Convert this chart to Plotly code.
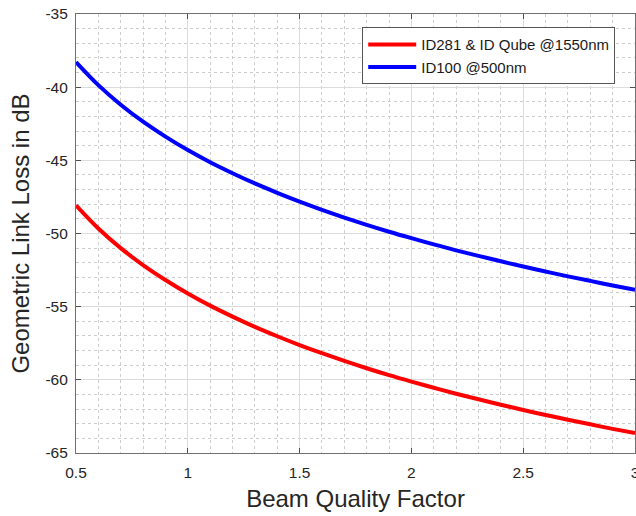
import plotly.graph_objects as go

beam_quality = [0.5, 0.6, 0.7, 0.8, 0.9, 1.0, 1.1, 1.2, 1.3, 1.4, 1.5, 1.6, 1.7,
                1.8, 1.9, 2.0, 2.1, 2.2, 2.3, 2.4, 2.5, 2.6, 2.7, 2.8, 2.9, 3.0]
loss_1550 = [-48.08, -49.66, -51.00, -52.16, -53.18, -54.10, -54.93, -55.68, -56.38,
             -57.02, -57.62, -58.18, -58.71, -59.21, -59.68, -60.12, -60.54, -60.95,
             -61.33, -61.70, -62.06, -62.40, -62.73, -63.04, -63.35, -63.64]
loss_500 = [-38.28, -39.86, -41.20, -42.36, -43.38, -44.30, -45.13, -45.88, -46.58,
            -47.22, -47.82, -48.38, -48.91, -49.41, -49.88, -50.32, -50.74, -51.15,
            -51.53, -51.90, -52.26, -52.60, -52.93, -53.24, -53.55, -53.84]
series_names = ["ID281 & ID Qube @1550nm", "ID100 @500nm"]
x_ticks = [0.5, 1, 1.5, 2, 2.5, 3]
x_tick_labels = ["0.5", "1", "1.5", "2", "2.5", "3"]
y_ticks = [-65, -60, -55, -50, -45, -40, -35]
y_tick_labels = ["-65", "-60", "-55", "-50", "-45", "-40", "-35"]

FONT = "Liberation Sans, Arial, sans-serif"

fig = go.Figure()
fig.add_trace(go.Scatter(x=beam_quality, y=loss_1550, mode="lines", name=series_names[0],
                         line=dict(color="#ff0000", width=4, shape="spline", smoothing=1.0)))
fig.add_trace(go.Scatter(x=beam_quality, y=loss_500, mode="lines", name=series_names[1],
                         line=dict(color="#0000ff", width=4, shape="spline", smoothing=1.0)))

axis_common = dict(
    showline=True, linecolor="#707070", linewidth=1.2, mirror="allticks",
    showgrid=True, gridcolor="#dcdcdc", gridwidth=1,
    zeroline=False, ticklen=5, tickcolor="#505050", ticks="inside",
    automargin=False, ticklabeloverflow="allow",
    tickfont=dict(family=FONT, size=15.5, color="#262626"),
)

fig.update_layout(
    width=636, height=516,
    margin=dict(l=76, r=1, t=14, b=63),
    paper_bgcolor="white", plot_bgcolor="white",
    showlegend=True,
    legend=dict(x=0.512, y=0.97, xanchor="left", yanchor="top",
                bgcolor="white", bordercolor="#555555", borderwidth=1,
                font=dict(family=FONT, size=15, color="#1a1a1a"),
                tracegroupgap=0, itemwidth=48),
    xaxis=dict(
        range=[0.5, 3], tickvals=x_ticks, ticktext=x_tick_labels,
        ticklabelstandoff=5,
        title=dict(text="Beam Quality Factor", standoff=10,
                   font=dict(family=FONT, size=24, color="#262626")),
        minor=dict(dtick=0.1, showgrid=True, gridcolor="#cccccc", griddash="3px,3px", gridwidth=1),
        **axis_common),
    yaxis=dict(
        range=[-65, -35], tickvals=y_ticks, ticktext=y_tick_labels,
        ticklabelstandoff=4,
        title=dict(text="Geometric Link Loss in dB", standoff=8,
                   font=dict(family=FONT, size=24, color="#262626")),
        minor=dict(dtick=1, showgrid=True, gridcolor="#cccccc", griddash="3px,3px", gridwidth=1),
        **axis_common),
)

fig.write_html("out.html", config={"displayModeBar": False},
               post_script="document.body.style.margin='0';")
